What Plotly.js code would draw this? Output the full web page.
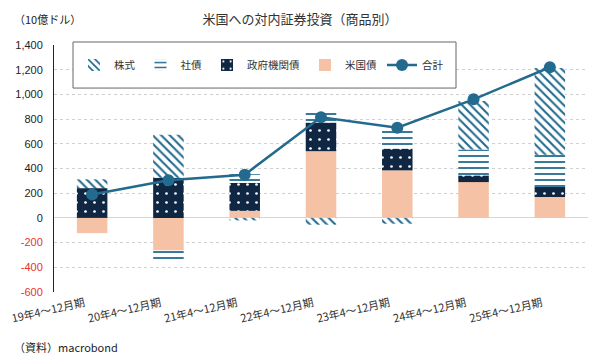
<!DOCTYPE html>
<html>
<head>
<meta charset="utf-8">
<script src="https://cdn.plot.ly/plotly-3.0.1.min.js"></script>
<style>
html,body{margin:0;padding:0;background:#fff;}
#chart{width:600px;height:360px;}
</style>
</head>
<body>
<div id="chart"></div>
<script>
const categories = ['19年4～12月期','20年4～12月期','21年4～12月期','22年4～12月期','23年4～12月期','24年4～12月期','25年4～12月期'];
const treasury  = [-123, -263, 57, 540, 385, 290, 169];
const agency    = [241, 326, 227, 232, 176, 54, 81];
const corporate = [0, -90, 70, 95, 155, 209, 262];
const stocks    = [71, 348, -20, -55, -47, 394, 702];
const total     = [190, 305, 350, 815, 730, 960, 1220];
const yTickVals = [-600,-400,-200,0,200,400,600,800,1000,1200,1400];

const FONT = '"Noto Sans CJK JP", "Noto Sans", sans-serif';
const BLUE = '#226a8e';
const NAVY = '#0f2742';
const PEACH = '#f5c2a6';

const yTickText = yTickVals.map(v => {
  const s = v.toLocaleString('en-US');
  return v < 0 ? '<span style="color:#e8332a">' + s + '</span>' : s;
});

const traces = [
  {type:'bar', name:'米国債', x:categories, y:treasury, legendrank:4,
   marker:{color:PEACH, line:{width:0}}},
  {type:'bar', name:'政府機関債', x:categories, y:agency, legendrank:3,
   marker:{color:NAVY, line:{width:0},
     pattern:{shape:'.', bgcolor:NAVY, fgcolor:'#ffffff', size:9, solidity:0.07}}},
  {type:'bar', name:'社債', x:categories, y:corporate, legendrank:2,
   marker:{color:BLUE, line:{width:0},
     pattern:{shape:'-', bgcolor:'#ffffff', fgcolor:BLUE, size:6, solidity:0.3}}},
  {type:'bar', name:'株式', x:categories, y:stocks, legendrank:1,
   marker:{color:BLUE, line:{width:0},
     pattern:{shape:'\\', bgcolor:'#ffffff', fgcolor:BLUE, size:6, solidity:0.35}}},
  {type:'scatter', mode:'lines+markers', name:'合計', x:categories, y:total, legendrank:5,
   line:{color:BLUE, width:2.5}, marker:{color:BLUE, size:12}}
];

const layout = {
  width:600, height:360,
  margin:{l:54, r:12, t:45, b:68},
  paper_bgcolor:'#ffffff', plot_bgcolor:'#ffffff',
  font:{family:FONT, size:11, color:'#333333'},
  barmode:'relative', bargap:0.6,
  hovermode:false,
  title:{text:'米国への対内証券投資（商品別）', x:0.5, xref:'container', xanchor:'center',
         y:1-19/360, yref:'container', yanchor:'middle',
         font:{family:FONT, size:13, color:'#333333'}},
  xaxis:{type:'category', range:[-0.5,6.5], tickangle:-13, showgrid:false, showline:false,
         ticks:'', zeroline:false, ticklabelshift:-8, ticklabelstandoff:2,
         tickfont:{family:FONT, size:11, color:'#333333'}},
  yaxis:{range:[-600,1400], tickmode:'array', tickvals:yTickVals, ticktext:yTickText,
         showgrid:true, gridcolor:'#d0d0d0', griddash:'dot', gridwidth:1,
         zeroline:true, zerolinecolor:'#d6d6d6', zerolinewidth:1,
         showline:true, linecolor:'#222222', linewidth:1, ticks:'', ticklabelstandoff:8,
         tickfont:{family:'"Liberation Sans", Arial, sans-serif', size:11, color:'#222222'}},
  showlegend:true,
  legend:{orientation:'h', x:(74-54)/534, xanchor:'left', y:(291.7-65)/246.7, yanchor:'middle',
          bgcolor:'rgba(0,0,0,0)', borderwidth:0, font:{family:FONT, size:10.5, color:'#333333'},
          itemwidth:30, traceorder:'normal'},
  shapes:[{type:'rect', xref:'paper', yref:'paper', layer:'above',
           x0:(73-54)/534, x1:(456-54)/534, y0:(291.7-88)/246.7, y1:(291.7-42)/246.7,
           line:{color:'#666666', width:1}, fillcolor:'#ffffff'}],
  annotations:[
    {text:'（10億ドル）', xref:'paper', yref:'paper', x:(12-54)/534, xanchor:'left',
     y:(291.7-19)/246.7, yanchor:'middle', showarrow:false,
     font:{family:FONT, size:11, color:'#222222'}},
    {text:'（資料）macrobond', xref:'paper', yref:'paper', x:(12-54)/534, xanchor:'left',
     y:(291.7-347)/246.7, yanchor:'middle', showarrow:false,
     font:{family:FONT, size:11, color:'#222222'}}
  ]
};

Plotly.newPlot('chart', traces, layout, {staticPlot:true, displayModeBar:false});
</script>
</body>
</html>
